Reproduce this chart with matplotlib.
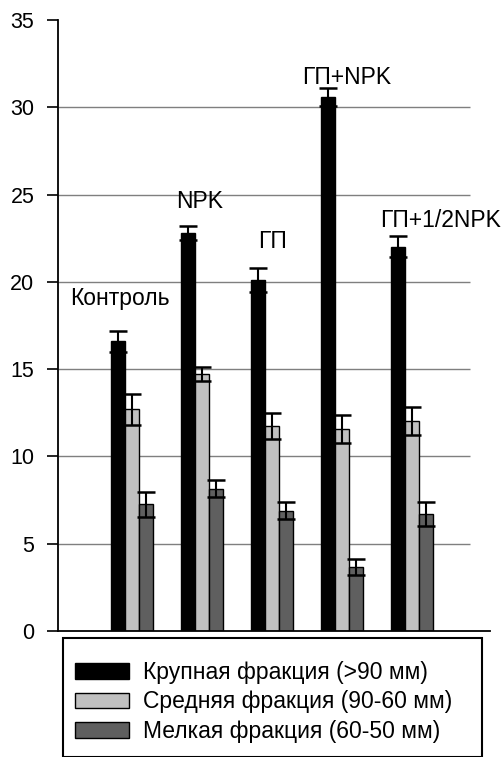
import numpy as np
import matplotlib
matplotlib.use('Agg')
import matplotlib.pyplot as plt
from matplotlib.patches import Rectangle
from matplotlib import font_manager as fm

plt.rcParams['font.family'] = ['Liberation Sans', 'DejaVu Sans']
plt.rcParams['font.stretch'] = 'normal'

# regular Arial-like face, pinned by file so odd sizes keep the same face
REG = fm.findfont(fm.FontProperties(family='Liberation Sans',
                                    stretch='normal', weight='normal'))

def font(size):
    return fm.FontProperties(fname=REG, size=size)

# ======================= data ==========================
groups = ['Контроль', 'NPK', 'ГП', 'ГП+NPK', 'ГП+1/2NPK']
series = ['Крупная фракция (>90 мм)',
          'Средняя фракция (90-60 мм)',
          'Мелкая фракция (60-50 мм)']
coarse = [16.6, 22.8, 20.1, 30.6, 22.0]
coarse_err = [0.6, 0.4, 0.7, 0.5, 0.6]
medium = [12.7, 14.7, 11.75, 11.55, 12.05]
medium_err = [0.9, 0.4, 0.75, 0.8, 0.8]
fine = [7.25, 8.15, 6.9, 3.65, 6.7]
fine_err = [0.7, 0.48, 0.47, 0.45, 0.68]

# label placement (offset from group centre, height)
label_dx = [-0.17, -0.04, 0.0, 0.07, 0.41]
label_y = [19.05, 24.6, 22.3, 31.7, 23.5]

colors = ['#000000', '#c0c0c0', '#5f5f5f']
W, H = 504, 757

fig = plt.figure(figsize=(W / 100, H / 100), dpi=100)
ax = fig.add_axes([58 / W, 1 - 631 / H, (490 - 58) / W, (631 - 20) / H])

x = np.arange(len(groups))
width = 0.2
handles = []
for i, (vals, errs) in enumerate([(coarse, coarse_err),
                                  (medium, medium_err),
                                  (fine, fine_err)]):
    pos = x + (i - 1) * width
    b = ax.bar(pos, vals, width, color=colors[i], edgecolor='black',
               linewidth=1.0, zorder=2, label=series[i])
    ax.errorbar(pos, vals, yerr=errs, fmt='none', ecolor='black',
                elinewidth=1.5, capsize=6.8, capthick=1.8, zorder=3)
    handles.append(b)

for xi, name, dx, yy in zip(x, groups, label_dx, label_y):
    ax.text(xi + dx, yy, name, ha='center', va='center',
            fontproperties=font(16.5))

ax.set_xlim(-1.057, 5.114)
ax.set_ylim(0, 35)
ax.hlines(np.arange(5, 35, 5), -1.057, 4.83, color='#7f7f7f',
          linewidth=1.0, zorder=1)
ax.set_yticks(np.arange(0, 36, 5))
ax.set_xticks([])
ax.tick_params(axis='y', length=8, width=1.2, pad=9)
for lab in ax.get_yticklabels():
    lab.set_fontproperties(font(15.5))
for s in ['top', 'right']:
    ax.spines[s].set_visible(False)
for s in ['left', 'bottom']:
    ax.spines[s].set_linewidth(1.3)

# legend box below the axes
fig.patches.append(Rectangle((63 / W, 0), (482 - 63) / W, 1 - 638 / H,
                             transform=fig.transFigure, fill=False,
                             edgecolor='black', linewidth=1.5))
fig.legend(handles=handles, loc='upper left',
           bbox_to_anchor=(75 / W, 1 - 661 / H), frameon=False,
           prop=font(16.5), handlelength=2.36, handleheight=0.68,
           handletextpad=0.6, labelspacing=0.28, borderpad=0,
           borderaxespad=0)

fig.savefig('out.png', dpi=100)
